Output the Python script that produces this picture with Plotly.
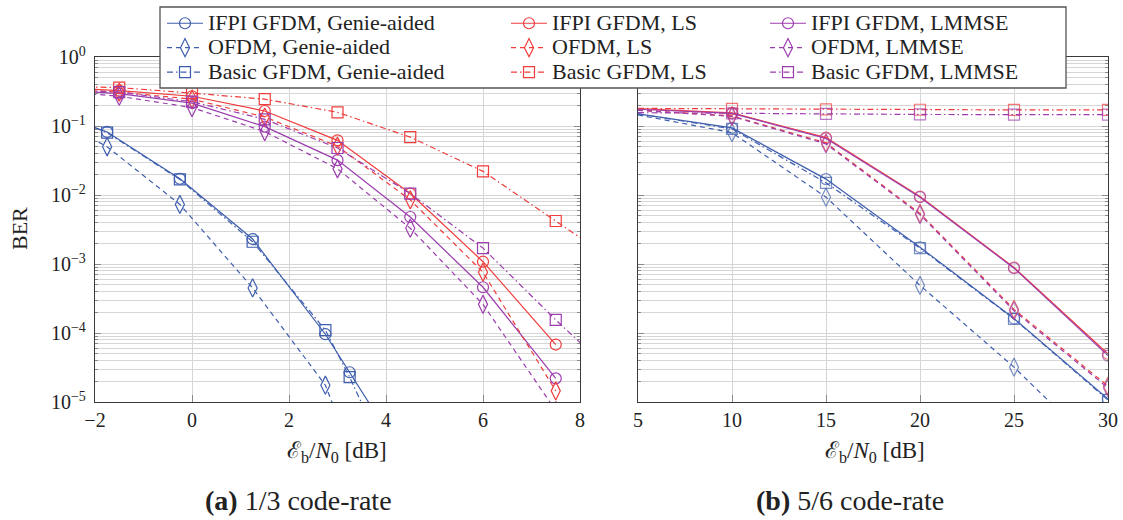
import plotly.graph_objects as go

# ---------------- (a) 1/3 code-rate ----------------
snr_a_genie = [-2.25, -1.75, -0.25, 1.25, 2.75, 3.25, 3.75]
snr_a_ofdm_genie = [-2.25, -1.75, -0.25, 1.25, 2.75, 3.25]
snr_a_est = [-3.0, -1.5, 0.0, 1.5, 3.0, 4.5, 6.0, 7.5]
snr_a_basic_est = [-3.0, -1.5, 0.0, 1.5, 3.0, 4.5, 6.0, 7.5, 9.0]

ber_a_ifpi_genie = [0.11, 0.082, 0.0172, 0.0023, 9.6e-5, 2.7e-5, 7.5e-6]
ber_a_ofdm_genie = [0.078, 0.05, 0.0073, 4.5e-4, 1.75e-5, 2.2e-6]
ber_a_basic_genie = [0.11, 0.08, 0.0168, 0.0021, 1.1e-4, 2.3e-5, 4.0e-6]

ber_a_ifpi_ls = [0.37, 0.325, 0.27, 0.165, 0.062, 0.0105, 1.08e-3, 6.8e-5]
ber_a_ofdm_ls = [0.35, 0.31, 0.245, 0.135, 0.051, 0.0085, 7.6e-4, 1.45e-5]
ber_a_basic_ls = [0.38, 0.36, 0.3, 0.245, 0.158, 0.069, 0.022, 4.2e-3, 8.0e-4]

ber_a_ifpi_lmmse = [0.34, 0.295, 0.215, 0.098, 0.032, 4.8e-3, 4.6e-4, 2.2e-5]
ber_a_ofdm_lmmse = [0.33, 0.27, 0.185, 0.083, 0.024, 3.3e-3, 2.6e-4, 7.5e-6]
ber_a_basic_lmmse = [0.34, 0.31, 0.225, 0.125, 0.048, 0.0105, 1.7e-3, 1.55e-4, 1.6e-5]

# ---------------- (b) 5/6 code-rate ----------------
snr_b = [5, 10, 15, 20, 25, 30]

ber_b_ifpi_genie = [0.15, 0.094, 0.017, 1.75e-3, 1.62e-4, 1.1e-5]
ber_b_ofdm_genie = [0.145, 0.08, 0.0093, 4.9e-4, 3.2e-5, 1.5e-6]
ber_b_basic_genie = [0.15, 0.091, 0.015, 1.7e-3, 1.6e-4, 1.07e-5]

ber_b_ifpi_ls = [0.178, 0.155, 0.068, 9.5e-3, 8.9e-4, 5.0e-5]
ber_b_ofdm_ls = [0.17, 0.14, 0.057, 5.4e-3, 2.2e-4, 1.7e-5]
ber_b_basic_ls = [0.18, 0.177, 0.174, 0.172, 0.171, 0.171]

ber_b_ifpi_lmmse = [0.175, 0.152, 0.066, 9.3e-3, 8.7e-4, 4.7e-5]
ber_b_ofdm_lmmse = [0.168, 0.138, 0.055, 5.2e-3, 2.1e-4, 1.6e-5]
ber_b_basic_lmmse = [0.156, 0.152, 0.15, 0.147, 0.146, 0.146]

# axis ticks
x_ticks_a = [-2, 0, 2, 4, 6, 8]
x_ticks_b = [5, 10, 15, 20, 25, 30]
y_exponents = [0, -1, -2, -3, -4, -5]

# legend entries
names = {
    ("ifpi", "genie"): "IFPI GFDM, Genie-aided",
    ("ofdm", "genie"): "OFDM, Genie-aided",
    ("basic", "genie"): "Basic GFDM, Genie-aided",
    ("ifpi", "ls"): "IFPI GFDM, LS",
    ("ofdm", "ls"): "OFDM, LS",
    ("basic", "ls"): "Basic GFDM, LS",
    ("ifpi", "lmmse"): "IFPI GFDM, LMMSE",
    ("ofdm", "lmmse"): "OFDM, LMMSE",
    ("basic", "lmmse"): "Basic GFDM, LMMSE",
}

W, H = 1123, 520
FONT = "Liberation Serif"
TEXT = "#222222"

colors = {"genie": "#3E5EAE", "ls": "#F03C3C", "lmmse": "#9C3DAE"}
symbols = {"ifpi": "circle-open", "ofdm": "diamond-tall-open", "basic": "square-open"}
sizes = {"ifpi": 11, "ofdm": 13, "basic": 11}
dashes = {"ifpi": "solid", "ofdm": "5px,4px", "basic": "6px,3px,1.5px,3px"}
legend_of = {"genie": "legend", "ls": "legend2", "lmmse": "legend3"}

series_a = [
    ("ifpi", "genie", snr_a_genie, ber_a_ifpi_genie),
    ("ifpi", "ls", snr_a_est, ber_a_ifpi_ls),
    ("ifpi", "lmmse", snr_a_est, ber_a_ifpi_lmmse),
    ("ofdm", "genie", snr_a_ofdm_genie, ber_a_ofdm_genie),
    ("ofdm", "ls", snr_a_est, ber_a_ofdm_ls),
    ("ofdm", "lmmse", snr_a_est, ber_a_ofdm_lmmse),
    ("basic", "genie", snr_a_genie, ber_a_basic_genie),
    ("basic", "ls", snr_a_basic_est, ber_a_basic_ls),
    ("basic", "lmmse", snr_a_basic_est, ber_a_basic_lmmse),
]
series_b = [
    ("basic", "ls", snr_b, ber_b_basic_ls),
    ("basic", "lmmse", snr_b, ber_b_basic_lmmse),
    ("basic", "genie", snr_b, ber_b_basic_genie),
    ("ofdm", "genie", snr_b, ber_b_ofdm_genie),
    ("ifpi", "genie", snr_b, ber_b_ifpi_genie),
    ("ofdm", "ls", snr_b, ber_b_ofdm_ls),
    ("ofdm", "lmmse", snr_b, ber_b_ofdm_lmmse),
    ("ifpi", "ls", snr_b, ber_b_ifpi_ls),
    ("ifpi", "lmmse", snr_b, ber_b_ifpi_lmmse),
]

LEGEND_TEXT_PX = 22

fig = go.Figure()

for scheme, est, x, y in series_a:
    label = '<span style="font-size:%dpx">%s</span>' % (LEGEND_TEXT_PX, names[(scheme, est)])
    fig.add_trace(go.Scatter(
        x=x, y=y, mode="lines+markers", name=label,
        line=dict(color=colors[est], width=1.2, dash=dashes[scheme]),
        marker=dict(symbol=symbols[scheme], size=sizes[scheme],
                    color=colors[est], line=dict(width=1.2, color=colors[est])),
        legend=legend_of[est], xaxis="x", yaxis="y",
    ))

for scheme, est, x, y in series_b:
    # the curve enters from the left border: no marker on its first sample
    msize = [0] + [sizes[scheme]] * (len(x) - 1)
    fig.add_trace(go.Scatter(
        x=x, y=y, mode="lines+markers", showlegend=False,
        line=dict(color=colors[est], width=1.2, dash=dashes[scheme]),
        marker=dict(symbol=symbols[scheme], size=msize,
                    color=colors[est], line=dict(width=1.2, color=colors[est])),
        xaxis="x2", yaxis="y2",
    ))

def px_x(p):
    return p / W

def px_y(p):
    return 1 - p / H

GRID = "#d6d6d6"
AXIS = "#3a3a3a"
TICKC = "#8a8a8a"

minor_vals = [m * 10.0 ** e for e in range(-5, 0) for m in range(2, 10)]
y_tickvals = [10.0 ** e for e in y_exponents]
y_ticktext = ["10<sup>%s</sup>" % (str(e).replace("-", "\u2212")) for e in y_exponents]

ydom = [px_y(402), px_y(57)]
common_y = dict(
    type="log", range=[-5, 0], domain=ydom,
    tickmode="array", tickvals=y_tickvals, ticktext=y_ticktext,
    showgrid=True, gridcolor=GRID, gridwidth=1,
    ticks="inside", ticklen=6, tickcolor=TICKC, ticklabelstandoff=4,
    minor=dict(tickmode="array", tickvals=minor_vals, showgrid=True,
               gridcolor=GRID, gridwidth=1, ticks="inside", ticklen=3,
               tickcolor=TICKC),
    showline=True, linecolor=AXIS, linewidth=1.3, mirror="allticks",
    zeroline=False, tickfont=dict(family=FONT, size=20, color=TEXT),
)
common_x = dict(
    showgrid=True, gridcolor=GRID, gridwidth=1,
    ticks="inside", ticklen=7, tickcolor=TICKC,
    showline=True, linecolor=AXIS, linewidth=1.3, mirror="allticks",
    zeroline=False, tickfont=dict(family=FONT, size=20, color=TEXT),
    tickmode="array",
)

fig.update_layout(
    width=W, height=H,
    margin=dict(l=0, r=0, t=0, b=0, autoexpand=False),
    paper_bgcolor="white", plot_bgcolor="white",
    xaxis=dict(common_x, domain=[px_x(95), px_x(580)], range=[-2, 8],
               tickvals=x_ticks_a, anchor="y"),
    yaxis=dict(common_y, anchor="x"),
    xaxis2=dict(common_x, domain=[px_x(638), px_x(1108)], range=[5, 30],
                tickvals=x_ticks_b, anchor="y2"),
    yaxis2=dict(common_y, anchor="x2", showticklabels=False),
    showlegend=True,
)

legend_style = dict(
    xanchor="left", yanchor="top", y=px_y(6),
    bgcolor="rgba(0,0,0,0)", borderwidth=0,
    font=dict(family=FONT, size=16.5, color=TEXT),
    itemwidth=36, tracegroupgap=0, orientation="v",
)
fig.update_layout(
    legend=dict(legend_style, x=px_x(162)),
    legend2=dict(legend_style, x=px_x(506)),
    legend3=dict(legend_style, x=px_x(765)),
)

# frame of the combined legend
fig.add_shape(type="rect", xref="paper", yref="paper",
              x0=px_x(160), x1=px_x(1066), y0=px_y(88), y1=px_y(7),
              line=dict(color="#555555", width=1.3), fillcolor="white",
              layer="above")

xlabel = "\u2130<sub>b</sub>/<i>N</i><sub>0</sub> [dB]"
ann = [
    dict(x=px_x(337), y=px_y(452), text=xlabel, size=23),
    dict(x=px_x(875), y=px_y(452), text=xlabel, size=23),
    dict(x=px_x(19), y=px_y(229), text="BER", textangle=-90, size=22),
    dict(x=px_x(298), y=px_y(500), text="<b>(a)</b> 1/3 code-rate", size=28),
    dict(x=px_x(850), y=px_y(500), text="<b>(b)</b> 5/6 code-rate", size=28),
]
for a in ann:
    size = a.pop("size")
    fig.add_annotation(dict(a, xref="paper", yref="paper", showarrow=False,
                            xanchor="center", yanchor="middle",
                            font=dict(family=FONT, size=size, color=TEXT)))

fig.write_html("out.html")
